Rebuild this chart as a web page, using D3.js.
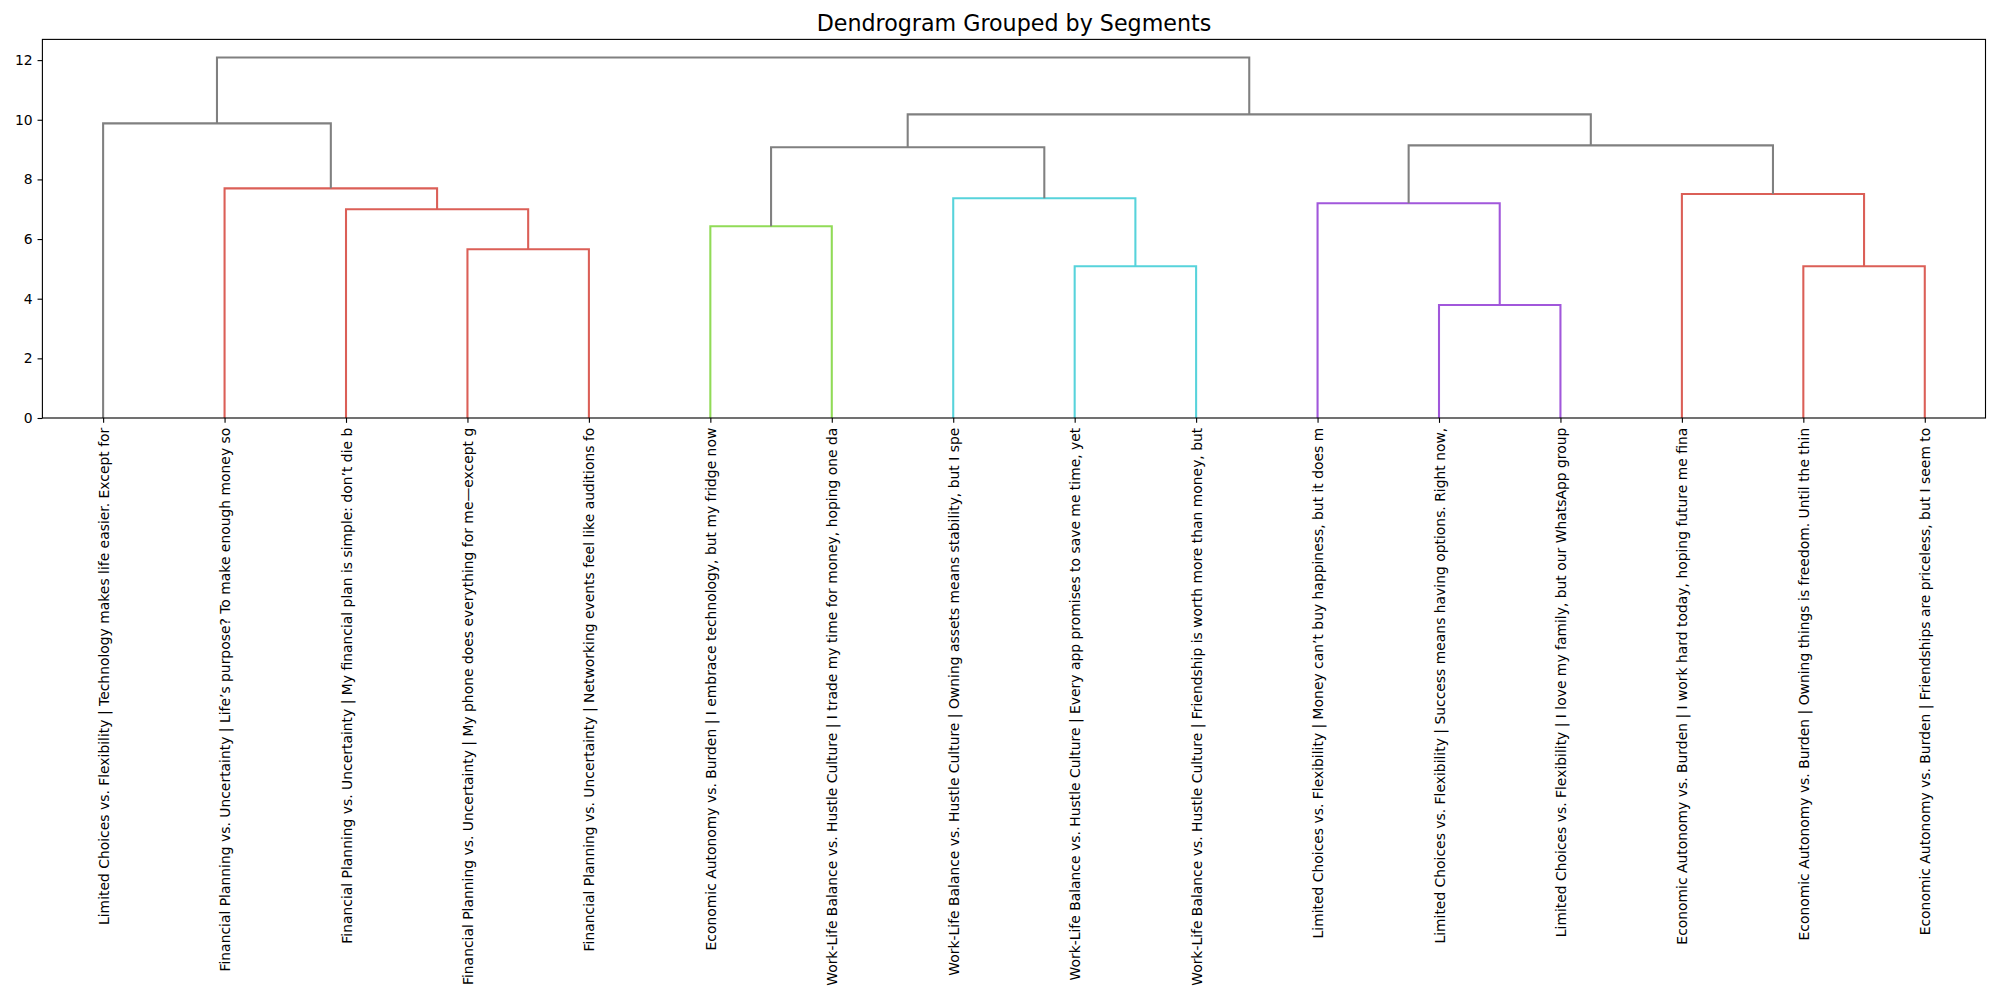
<!DOCTYPE html>
<html>
<head>
<meta charset="utf-8">
<script src="https://cdn.jsdelivr.net/npm/d3@7"></script>
<style>
  html, body { margin: 0; padding: 0; background: #ffffff; }
  svg { display: block; font-family: "DejaVu Sans", sans-serif; }
</style>
</head>
<body>
<svg id="chart" width="2000" height="1000"></svg>
<script>
// ---- data ----
const chartTitle = "Dendrogram Grouped by Segments";

// leaves in display order
const leafLabels = [
  "Limited Choices vs. Flexibility | Technology makes life easier. Except for",
  "Financial Planning vs. Uncertainty | Life\u2019s purpose? To make enough money so",
  "Financial Planning vs. Uncertainty | My financial plan is simple: don\u2019t die b",
  "Financial Planning vs. Uncertainty | My phone does everything for me\u2014except g",
  "Financial Planning vs. Uncertainty | Networking events feel like auditions fo",
  "Economic Autonomy vs. Burden | I embrace technology, but my fridge now",
  "Work-Life Balance vs. Hustle Culture | I trade my time for money, hoping one da",
  "Work-Life Balance vs. Hustle Culture | Owning assets means stability, but I spe",
  "Work-Life Balance vs. Hustle Culture | Every app promises to save me time, yet",
  "Work-Life Balance vs. Hustle Culture | Friendship is worth more than money, but",
  "Limited Choices vs. Flexibility | Money can\u2019t buy happiness, but it does m",
  "Limited Choices vs. Flexibility | Success means having options. Right now,",
  "Limited Choices vs. Flexibility | I love my family, but our WhatsApp group",
  "Economic Autonomy vs. Burden | I work hard today, hoping future me fina",
  "Economic Autonomy vs. Burden | Owning things is freedom. Until the thin",
  "Economic Autonomy vs. Burden | Friendships are priceless, but I seem to"
];

// linkage: node ids 0..15 are leaves, new node ids start at 16 (scipy style)
const linkLeft   = [3, 2, 1, 0, 5, 8, 7, 20, 11, 10, 14, 13, 25, 23, 19];
const linkRight  = [4, 16, 17, 18, 6, 9, 21, 22, 12, 24, 15, 26, 27, 28, 29];
const linkHeight = [5.66, 7.00, 7.70, 9.88, 6.43, 5.09, 7.37, 9.08, 3.79, 7.20, 5.09, 7.51, 9.14, 10.18, 12.09];

const clusterPalette = ["#db5f57", "#91db57", "#57d3db", "#a157db"];
const aboveColor = "#808080";
const yTicks = [0, 2, 4, 6, 8, 10, 12];

// ---- layout ----
const W = 2000, H = 1000;
const m = { left: 42.4, right: 2000 - 1985.5, top: 39.4, bottom: 1000 - 418 };
const svg = d3.select("#chart");

const nLeaves = leafLabels.length;
const maxH = d3.max(linkHeight);
const threshold = 0.7 * maxH;

const x = d3.scaleLinear().domain([0, nLeaves * 10]).range([m.left, W - m.right]);
const y = d3.scaleLinear().domain([0, maxH * 1.05]).range([H - m.bottom, m.top]);

// node positions
const nodeX = [], nodeY = [], nodeLeaves = [];
for (let i = 0; i < nLeaves; i++) { nodeX[i] = 5 + 10 * i; nodeY[i] = 0; nodeLeaves[i] = [i]; }
linkHeight.forEach((h, k) => {
  const id = nLeaves + k, a = linkLeft[k], b = linkRight[k];
  nodeX[id] = (nodeX[a] + nodeX[b]) / 2;
  nodeY[id] = h;
  nodeLeaves[id] = nodeLeaves[a].concat(nodeLeaves[b]);
});

// cluster colours: maximal subtrees below threshold, coloured left to right
const linkColor = new Array(linkHeight.length).fill(aboveColor);
const clusterRoots = [];
linkHeight.forEach((h, k) => {
  const id = nLeaves + k;
  if (h < threshold) {
    // is parent above threshold?
    let parentK = linkLeft.findIndex((l, j) => l === id || linkRight[j] === id);
    if (parentK < 0 || linkHeight[parentK] >= threshold) clusterRoots.push(id);
  }
});
clusterRoots.sort((p, q) => d3.min(nodeLeaves[p]) - d3.min(nodeLeaves[q]));
clusterRoots.forEach((root, ci) => {
  const col = clusterPalette[ci % clusterPalette.length];
  const stack = [root];
  while (stack.length) {
    const id = stack.pop();
    if (id < nLeaves) continue;
    const k = id - nLeaves;
    linkColor[k] = col;
    stack.push(linkLeft[k], linkRight[k]);
  }
});

// ---- draw links ----
const g = svg.append("g");
linkHeight.forEach((h, k) => {
  const a = linkLeft[k], b = linkRight[k];
  const p = d3.path();
  p.moveTo(x(nodeX[a]), y(nodeY[a]));
  p.lineTo(x(nodeX[a]), y(h));
  p.lineTo(x(nodeX[b]), y(h));
  p.lineTo(x(nodeX[b]), y(nodeY[b]));
  g.append("path")
    .attr("d", p.toString())
    .attr("fill", "none")
    .attr("stroke", linkColor[k])
    .attr("stroke-width", 2.08)
    .attr("stroke-linejoin", "miter")
    .attr("stroke-linecap", "butt");
});

// ---- axes ----
const yAxis = d3.axisLeft(y).tickValues(yTicks).tickFormat(d3.format("d"))
  .tickSize(4.86).tickPadding(4.86);
const yg = svg.append("g").attr("transform", `translate(${m.left},0)`).call(yAxis);
yg.select(".domain").remove();
yg.selectAll(".tick line").attr("stroke", "#000").attr("stroke-width", 1.11);
yg.selectAll(".tick text").attr("font-size", 13.9).attr("fill", "#000")
  .attr("font-family", "DejaVu Sans, sans-serif");

const xAxis = d3.axisBottom(x)
  .tickValues(leafLabels.map((_, i) => 5 + 10 * i))
  .tickFormat((d, i) => leafLabels[i])
  .tickSize(4.86).tickPadding(4.86);
const xg = svg.append("g").attr("transform", `translate(0,${H - m.bottom})`).call(xAxis);
xg.select(".domain").remove();
xg.selectAll(".tick line").attr("stroke", "#000").attr("stroke-width", 1.11);
xg.selectAll(".tick text")
  .attr("font-size", 13.9).attr("fill", "#000")
  .attr("font-family", "DejaVu Sans, sans-serif")
  .attr("text-anchor", "end")
  .attr("dominant-baseline", "central")
  .attr("dy", null)
  .attr("y", null)
  .attr("transform", "translate(0,9.72) rotate(-90)");

// frame
svg.append("rect")
  .attr("x", m.left).attr("y", m.top)
  .attr("width", W - m.left - m.right).attr("height", H - m.top - m.bottom)
  .attr("fill", "none").attr("stroke", "#000").attr("stroke-width", 1.11);

// title
svg.append("text")
  .attr("x", (m.left + W - m.right) / 2)
  .attr("y", 31)
  .attr("text-anchor", "middle")
  .attr("font-size", 22.2)
  .attr("fill", "#000")
  .text(chartTitle);
</script>
</body>
</html>
